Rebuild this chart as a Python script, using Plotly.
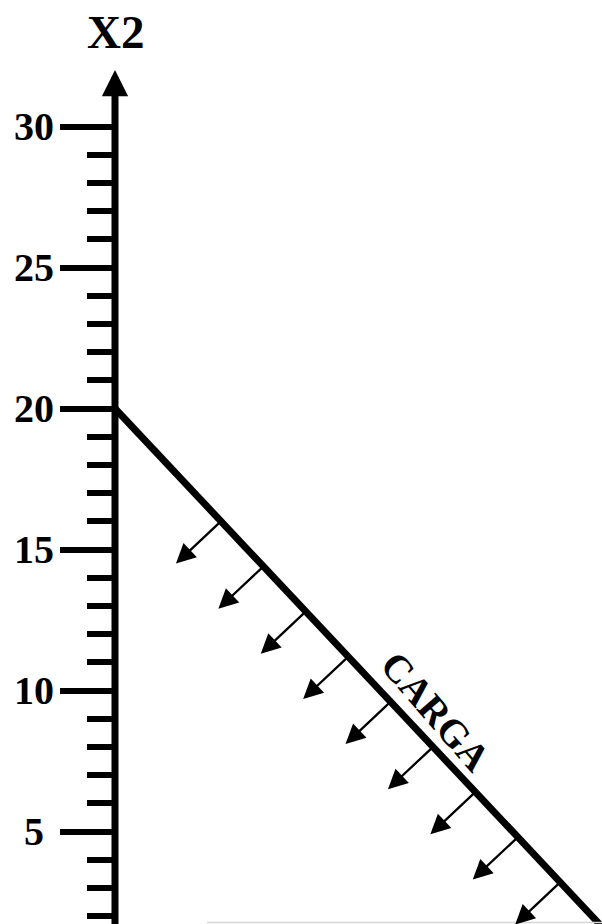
import plotly.graph_objects as go

# ---- data ----
major_ticks = [5, 10, 15, 20, 25, 30]
major_labels = ["5", "10", "15", "20", "25", "30"]
minor_ticks = [1, 2, 3, 4, 6, 7, 8, 9, 11, 12, 13, 14, 16, 17, 18, 19,
               21, 22, 23, 24, 26, 27, 28, 29]
carga_x1 = [0, 20]
carga_x2 = [20, 0]
arrow_x1 = [4.0, 5.6, 7.2, 8.8, 10.4, 12.0, 13.6, 15.2, 16.8]
arrow_x2 = [16.0, 14.4, 12.8, 11.2, 9.6, 8.0, 6.4, 4.8, 3.2]
arrow_dx = -1.7
arrow_dy = -1.5
axis_top = 32
axis_bottom = 0
label_pos = (12.11, 9.25)

FONT = "Liberation Serif"

fig = go.Figure()
fig.add_trace(go.Scatter(x=carga_x1, y=carga_x2, mode="lines",
                         line=dict(color="black", width=7),
                         hoverinfo="skip", showlegend=False))

annotations = []
# vertical axis with arrow head
annotations.append(dict(x=0, y=axis_top, ax=0, ay=axis_bottom,
                        xref="x", yref="y", axref="x", ayref="y",
                        text="", showarrow=True, arrowhead=2,
                        arrowsize=0.75, arrowwidth=7, arrowcolor="black"))
# load arrows
for a, b in zip(arrow_x1, arrow_x2):
    annotations.append(dict(x=a + arrow_dx, y=b + arrow_dy, ax=a, ay=b,
                            xref="x", yref="y", axref="x", ayref="y",
                            text="", showarrow=True, arrowhead=2,
                            arrowsize=1.7, arrowwidth=2.3, arrowcolor="black"))
# tick labels (centered)
for v, t in zip(major_ticks, major_labels):
    annotations.append(dict(x=33.5 / 602, xref="paper", y=v, yref="y",
                            text=t, showarrow=False, xanchor="center",
                            yanchor="middle",
                            font=dict(family=FONT, size=40, color="black",
                                      weight="bold")))
# axis title
annotations.append(dict(x=0, xref="x", y=1 - 32 / 924, yref="paper",
                        text="X2", showarrow=False, xanchor="center",
                        yanchor="middle",
                        font=dict(family=FONT, size=47, color="black",
                                  weight="bold")))
# constraint label
annotations.append(dict(x=label_pos[0], y=label_pos[1], xref="x", yref="y",
                        text="CARGA", showarrow=False, textangle=49,
                        xanchor="center", yanchor="middle",
                        font=dict(family=FONT, size=39, color="black",
                                  weight="bold")))

fig.update_layout(
    width=602, height=924,
    margin=dict(l=0, r=0, t=0, b=0),
    paper_bgcolor="white", plot_bgcolor="white",
    showlegend=False,
    annotations=annotations,
    shapes=[dict(type="line", xref="paper", yref="paper",
                 x0=207 / 602, x1=1, y0=1.5 / 924, y1=1.5 / 924,
                 line=dict(color="#d6d6d6", width=1.5))],
    xaxis=dict(range=[-115 / 26.5, (602 - 115) / 26.5], visible=False,
               domain=[0, 1]),
    yaxis=dict(range=[(972.5 - 924) / 28.2, 972.5 / 28.2],
               anchor="free", position=115 / 602,
               showline=False, showgrid=False, zeroline=False,
               showticklabels=False,
               tickmode="array", tickvals=major_ticks,
               ticks="outside", ticklen=55, tickwidth=6, tickcolor="black",
               minor=dict(tickmode="array", tickvals=minor_ticks,
                          ticks="outside", ticklen=28, tickwidth=6,
                          tickcolor="black", showgrid=False)),
)

fig.write_html("out.html", config={"displayModeBar": False},
               post_script="document.body.style.margin='0px';"
                           "document.body.style.overflow='hidden';")
